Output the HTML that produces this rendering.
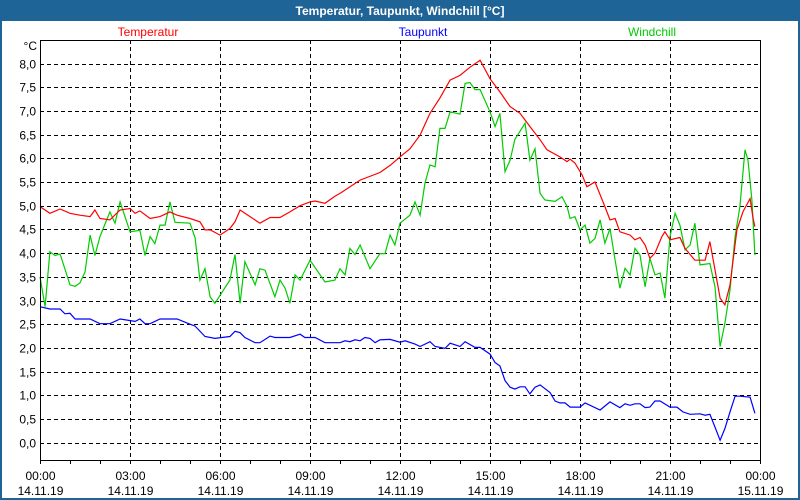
<!DOCTYPE html>
<html><head><meta charset="utf-8"><style>
body{margin:0;background:#fff;}
svg{display:block;font-family:"Liberation Sans",sans-serif;}
</style></head><body>
<svg id="chart" width="800" height="500" viewBox="0 0 800 500">
<rect x="0" y="0" width="800" height="500" fill="#fff"/>
<rect x="1" y="0" width="798" height="499" fill="none" stroke="#1e6496" stroke-width="2"/>
<rect x="0" y="0" width="800" height="21" fill="#1e6496"/>
<text x="400" y="15" text-anchor="middle" fill="#fff" font-weight="bold" font-size="12">Temperatur, Taupunkt, Windchill [°C]</text>
<text x="148" y="36" text-anchor="middle" fill="#ff0000" font-size="12">Temperatur</text>
<text x="423" y="36" text-anchor="middle" fill="#0000ff" font-size="12">Taupunkt</text>
<text x="652" y="36" text-anchor="middle" fill="#00cc00" font-size="12">Windchill</text>
<text x="37" y="50" text-anchor="end" font-size="12">°C</text>
<g id="grid"></g>
<g id="series"></g>
<rect x="40.5" y="40.5" width="720" height="420" fill="none" stroke="#000" stroke-width="1"/>
<g id="axes"></g>
</svg>
<script>
const yTicks=[0,0.5,1,1.5,2,2.5,3,3.5,4,4.5,5,5.5,6,6.5,7,7.5,8];
const xTickHours=[0,3,6,9,12,15,18,21,24];
const xTimeLabels=["00:00","03:00","06:00","09:00","12:00","15:00","18:00","21:00","00:00"];
const xDateLabels=["14.11.19","14.11.19","14.11.19","14.11.19","14.11.19","14.11.19","14.11.19","14.11.19","15.11.19"];

const tempHours=[0,.33,.67,1,1.33,1.67,1.83,2,2.33,2.67,3,3.17,3.33,3.67,4,4.33,4.57,5,5.33,5.5,5.67,6,6.33,6.5,6.67,7,7.33,7.67,8,8.33,8.67,9,9.17,9.5,9.83,10,10.67,11.33,11.67,12,12.33,12.67,13,13.33,13.67,14,14.33,14.67,15,15.33,15.67,16,16.33,16.67,16.9,17.33,17.57,17.67,17.83,18.07,18.23,18.5,18.83,19,19.17,19.33,19.67,19.83,20,20.17,20.33,20.5,20.73,20.83,21,21.33,21.5,21.83,22.17,22.33,22.67,22.83,23,23.23,23.43,23.67,23.77,23.83];
const tempValues=[4.98,4.84,4.93,4.84,4.8,4.77,4.91,4.73,4.7,4.91,4.94,4.84,4.89,4.73,4.77,4.87,4.8,4.73,4.66,4.49,4.49,4.38,4.52,4.66,4.91,4.77,4.63,4.75,4.75,4.87,5.0,5.08,5.1,5.05,5.2,5.26,5.54,5.7,5.85,6.03,6.2,6.49,6.95,7.27,7.65,7.75,7.92,8.07,7.68,7.4,7.09,6.95,6.67,6.39,6.18,6.03,5.93,5.98,5.9,5.65,5.4,5.5,4.98,4.7,4.73,4.45,4.38,4.28,4.33,4.17,3.89,4.0,4.35,4.45,4.28,4.33,4.1,3.85,3.85,4.24,3.05,2.91,3.33,4.49,4.87,5.15,4.73,4.56];

const dewHours=[0,.33,.67,.83,1,1.17,1.67,2,2.33,2.67,3.17,3.33,3.5,3.67,4,4.57,5,5.17,5.5,5.83,6.33,6.5,6.67,6.83,7.17,7.33,7.67,7.83,8.33,8.67,8.83,9.17,9.5,10,10.17,10.33,10.5,10.67,10.83,11,11.17,11.33,11.67,12,12.17,12.5,12.67,13,13.17,13.5,13.67,14,14.17,14.5,14.67,15,15.17,15.33,15.5,15.67,15.83,16,16.17,16.33,16.5,16.67,17,17.17,17.33,17.5,17.67,18,18.17,18.67,19,19.33,19.5,19.67,19.83,20,20.17,20.33,20.5,20.67,21,21.23,21.43,21.67,22,22.17,22.33,22.5,22.67,22.83,23,23.17,23.33,23.67,23.83];
const dewValues=[2.87,2.82,2.82,2.72,2.73,2.61,2.61,2.51,2.51,2.61,2.56,2.61,2.51,2.51,2.61,2.61,2.5,2.46,2.24,2.2,2.24,2.35,2.32,2.22,2.11,2.11,2.25,2.22,2.22,2.29,2.22,2.22,2.11,2.11,2.15,2.13,2.17,2.15,2.22,2.2,2.11,2.17,2.18,2.12,2.15,2.08,2.03,2.13,2.03,1.99,2.1,2.03,2.13,2.01,2.01,1.87,1.69,1.62,1.31,1.17,1.13,1.18,1.18,1.03,1.17,1.22,1.06,0.88,0.84,0.84,0.75,0.75,0.84,0.69,0.86,0.74,0.82,0.79,0.82,0.82,0.74,0.75,0.88,0.88,0.75,0.75,0.65,0.6,0.61,0.58,0.6,0.33,0.05,0.3,0.65,0.98,0.98,0.96,0.62];

const chillHours=[0,.17,.33,.5,.67,1,1.17,1.33,1.5,1.67,1.83,2,2.33,2.5,2.67,3,3.33,3.5,3.67,3.83,4,4.17,4.33,4.5,5,5.17,5.33,5.5,5.67,5.83,6.33,6.5,6.67,6.83,7.17,7.33,7.5,7.83,8,8.17,8.33,8.5,8.67,9,9.5,9.83,10,10.17,10.33,10.5,10.67,11,11.33,11.5,11.67,11.83,12,12.33,12.5,12.67,12.83,13,13.17,13.33,13.5,13.67,14,14.17,14.33,14.5,14.67,15,15.17,15.33,15.5,15.67,15.83,16.17,16.33,16.5,16.67,16.83,17.17,17.4,17.57,17.67,17.83,18,18.17,18.33,18.5,18.67,18.83,19,19.17,19.33,19.5,19.67,19.83,20,20.17,20.33,20.5,20.67,20.83,21,21.17,21.33,21.5,21.67,21.83,22,22.33,22.5,22.67,22.83,23,23.17,23.33,23.5,23.6,23.73,23.83];
const chillValues=[3.5,2.87,4.03,3.95,3.98,3.33,3.3,3.37,3.6,4.38,3.95,4.35,4.87,4.63,5.08,4.45,4.48,3.95,4.35,4.2,4.59,4.59,5.08,4.65,4.63,4.32,3.43,3.67,3.08,2.94,3.43,3.97,2.94,3.82,3.33,3.67,3.64,3.08,3.43,3.26,2.94,3.54,3.43,3.85,3.39,3.43,3.67,3.54,4.1,3.97,4.17,3.67,3.99,3.99,4.38,4.17,4.63,4.8,5.08,4.8,5.47,5.86,5.82,6.63,6.63,6.98,6.93,7.58,7.6,7.45,7.45,6.98,6.67,6.95,5.72,5.96,6.4,6.74,5.96,6.2,5.26,5.12,5.09,5.19,4.98,4.73,4.77,4.49,4.59,4.21,4.31,4.7,4.21,4.52,3.85,3.26,3.68,3.54,4.1,3.96,3.29,3.89,3.54,3.58,3.05,4.35,4.84,4.59,4.07,4.17,4.63,3.75,3.78,3.29,2.03,2.52,3.22,4.35,4.98,6.18,5.96,5.12,3.96];

const X0=40,X1=760,Y0=442.7,PX_PER_UNIT=47.4;
function xScale(h){return X0+(X1-X0)*h/24;}
function yScale(v){return Y0-PX_PER_UNIT*v;}
const NS="http://www.w3.org/2000/svg";
const grid=document.getElementById('grid'),axes=document.getElementById('axes'),series=document.getElementById('series');

yTicks.forEach(function(v){
  const y=Math.round(yScale(v))+0.5;
  const l=document.createElementNS(NS,'line');
  l.setAttribute('x1',X0);l.setAttribute('x2',X1);l.setAttribute('y1',y);l.setAttribute('y2',y);
  l.setAttribute('stroke','#000');l.setAttribute('stroke-dasharray','4,3');
  
  
  grid.appendChild(l);
  const t=document.createElementNS(NS,'text');
  t.setAttribute('x',36);t.setAttribute('y',y+4);t.setAttribute('text-anchor','end');t.setAttribute('font-size','12');
  t.textContent=v.toFixed(1).replace('.',',');
  
  
  axes.appendChild(t);
});
xTickHours.forEach(function(h,i){
  const x=Math.round(xScale(h))+0.5;
  if(h>0&&h<24){
    const l=document.createElementNS(NS,'line');
    l.setAttribute('x1',x);l.setAttribute('x2',x);l.setAttribute('y1',40);l.setAttribute('y2',460);
    l.setAttribute('stroke','#000');l.setAttribute('stroke-dasharray','4,3');
    
    
    grid.appendChild(l);
  }
  const t1=document.createElementNS(NS,'text');
  t1.setAttribute('x',x);t1.setAttribute('y',480);t1.setAttribute('text-anchor','middle');t1.setAttribute('font-size','12');
  t1.textContent=xTimeLabels[i];
  
  
  axes.appendChild(t1);
  const t2=document.createElementNS(NS,'text');
  t2.setAttribute('x',x);t2.setAttribute('y',495);t2.setAttribute('text-anchor','middle');t2.setAttribute('font-size','12');
  t2.textContent=xDateLabels[i];
  
  
  axes.appendChild(t2);
});
for(let h=0;h<=24;h++){
  const x=Math.round(xScale(h))+0.5;
  const l=document.createElementNS(NS,'line');
  l.setAttribute('x1',x);l.setAttribute('x2',x);l.setAttribute('y1',460);l.setAttribute('y2',464);
  l.setAttribute('stroke','#000');
  
  
  axes.appendChild(l);
}
function drawLine(hours,vals,color,name){
  const p=document.createElementNS(NS,'polyline');
  p.setAttribute('points',hours.map(function(h,i){return xScale(h).toFixed(1)+','+yScale(vals[i]).toFixed(1);}).join(' '));
  p.setAttribute('fill','none');p.setAttribute('stroke',color);p.setAttribute('stroke-width','1.2');
  
  
  series.appendChild(p);
}
drawLine(chillHours,chillValues,'#00cc00','windchill-line');
drawLine(tempHours,tempValues,'#ff0000','temperatur-line');
drawLine(dewHours,dewValues,'#0000ff','taupunkt-line');
</script>
</body></html>
